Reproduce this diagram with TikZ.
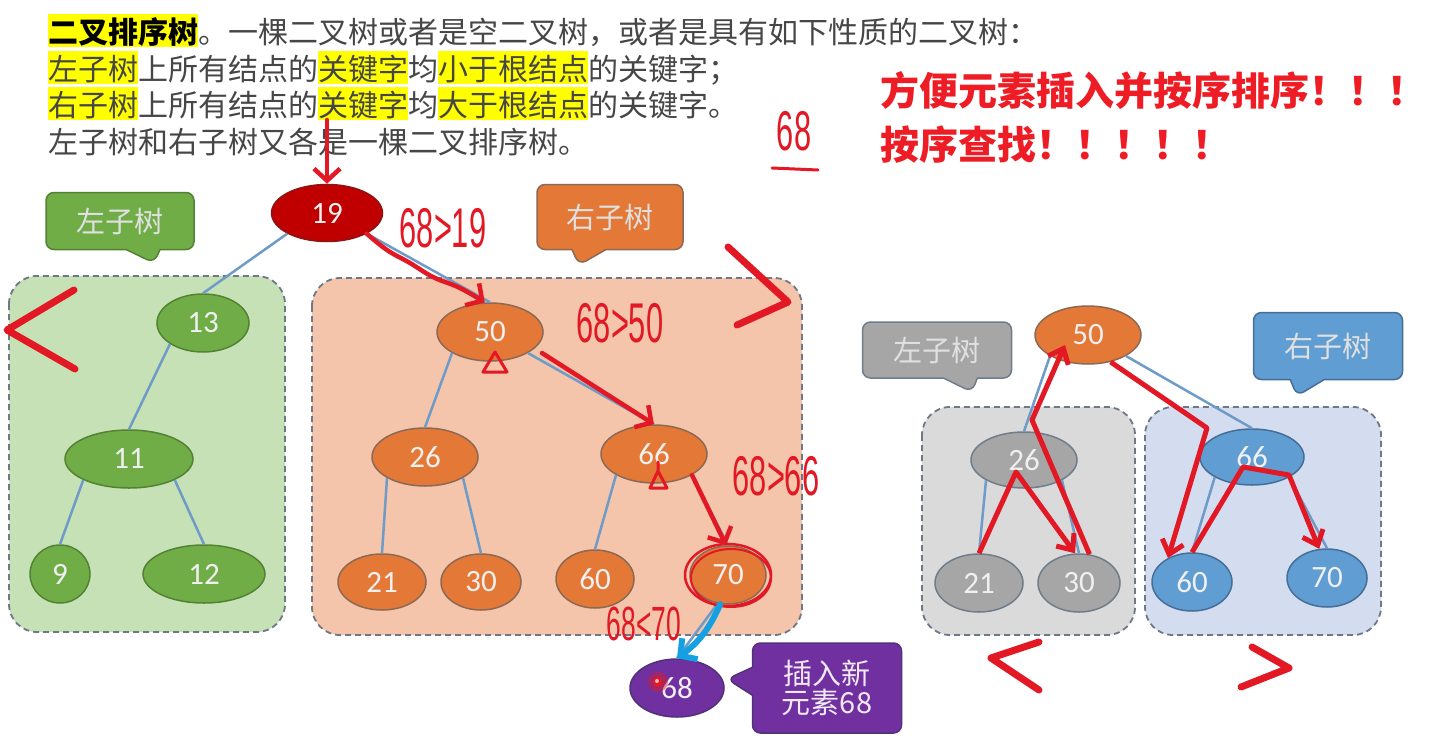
\documentclass[tikz,border=0pt]{standalone}
\usepackage{fontspec}
\setmainfont{Carlito}
\newfontfamily\cjk{Noto Sans CJK SC}
\newfontfamily\handfont[FakeStretch=0.55]{Liberation Sans}
\definecolor{leafgreen}{RGB}{112,173,71}
\definecolor{leafgreendk}{RGB}{84,130,53}
\definecolor{greenbg}{RGB}{199,225,182}
\definecolor{treeorange}{RGB}{228,121,55}
\definecolor{treeorangedk}{RGB}{140,105,85}
\definecolor{orangebg}{RGB}{244,197,170}
\definecolor{rootred}{RGB}{192,0,0}
\definecolor{rootreddk}{RGB}{140,20,20}
\definecolor{treegray}{RGB}{166,166,166}
\definecolor{treegraydk}{RGB}{110,125,140}
\definecolor{graybg}{RGB}{218,218,218}
\definecolor{treeblue}{RGB}{96,157,211}
\definecolor{treebluedk}{RGB}{70,110,150}
\definecolor{bluebg}{RGB}{212,221,239}
\definecolor{newpurple}{RGB}{112,48,160}
\definecolor{newpurpledk}{RGB}{80,50,120}
\definecolor{edgeblue}{RGB}{110,155,200}
\definecolor{boxline}{RGB}{110,120,135}
\definecolor{penred}{RGB}{226,24,36}
\definecolor{penblue}{RGB}{20,160,225}
\definecolor{titlered}{RGB}{238,28,36}
\definecolor{hlyellow}{RGB}{255,255,0}
\definecolor{txtgray}{RGB}{70,70,70}
\usetikzlibrary{shapes.geometric, shapes.callouts, arrows.meta}
\newcommand{\hl}[1]{{\setlength{\fboxsep}{0pt}\colorbox{hlyellow}{\rule[-0.12em]{0pt}{1.1em}#1}}}
\tikzset{
  treenode/.style={ellipse, draw, line width=1.5pt, inner sep=0pt, minimum width=106pt, minimum height=58pt, text=white!94!black, font=\fontsize{31}{31}\selectfont},
  greennode/.style={treenode, fill=leafgreen, draw=leafgreendk},
  orangenode/.style={treenode, fill=treeorange, draw=treeorangedk},
  graynode/.style={treenode, fill=treegray, draw=treegraydk},
  bluenode/.style={treenode, fill=treeblue, draw=treebluedk},
  subbox/.style={rounded corners=28pt, draw=boxline, line width=1.8pt, dash pattern=on 6pt off 4pt},
  tagbox/.style={rectangle callout, rounded corners=8pt, line width=1.5pt, inner sep=0pt, callout pointer width=34pt, text=white!88!black, font=\cjk\fontsize{29}{29}\selectfont},
  treeedge/.style={draw=edgeblue, line width=2.5pt},
  pen/.style={draw=penred, line width=4.5pt, line cap=round, line join=round},
  penarrow/.style={pen, -{Straight Barb[length=12pt, width=26pt]}},
  bigpen/.style={pen, line width=7pt},
  rpen/.style={pen, line width=5pt, line cap=butt, -{Straight Barb[length=13pt, width=22pt]}},
  handnote/.style={text=penred, font=\handfont\fontsize{56}{56}\selectfont, inner sep=0pt},
  textline/.style={anchor=base west, inner sep=0pt, text=txtgray, font=\cjk\fontsize{30}{36}\selectfont},
  slogan/.style={anchor=base west, inner sep=0pt, text=titlered, font=\cjk\bfseries\fontsize{39}{46}\selectfont},
}
\begin{document}
\begin{tikzpicture}[x=1pt, y=-1pt]
  \useasboundingbox (0,0) rectangle (1448,747);
  \fill[white] (0,0) rectangle (1448,747);

  \node[textline] (line1) at (48,43) {\hl{\bfseries\color{black}二叉排序树}。一棵二叉树或者是空二叉树，或者是具有如下性质的二叉树：};
  \node[textline] (line2) at (48,80) {\hl{左子树}上所有结点的\hl{关键字}均\hl{小于根结点}的关键字；};
  \node[textline] (line3) at (48,116) {\hl{右子树}上所有结点的\hl{关键字}均\hl{大于根结点}的关键字。};
  \node[textline] (line4) at (48,153) {左子树和右子树又各是一棵二叉排序树。};
  \node[slogan] (slogan1) at (880,105) {方便元素插入并按序排序！！！};
  \node[slogan] (slogan2) at (880,159) {按序查找！！！！！};

  \draw[subbox, fill=greenbg] (9,276) rectangle (285,632);
  \draw[subbox, fill=orangebg] (312,278) rectangle (802,635);
  \draw[subbox, fill=graybg] (922,407) rectangle (1135,635);
  \draw[subbox, fill=bluebg] (1145,407) rectangle (1381,635);

  \node[tagbox, fill=leafgreen, draw=leafgreendk, minimum width=148pt, minimum height=57pt, callout absolute pointer={(154,263)}] (tagleft) at (120,221) {左子树};
  \node[tagbox, fill=treeorange, draw=treeorangedk, minimum width=146pt, minimum height=65pt, callout absolute pointer={(579,265)}] (tagright) at (610,217) {右子树};
  \node[tagbox, fill=treegray, draw=treegraydk, minimum width=149pt, minimum height=56pt, callout absolute pointer={(972,392)}] (tagleft2) at (937,350) {左子树};
  \node[tagbox, fill=treeblue, draw=treebluedk, minimum width=149pt, minimum height=67pt, callout absolute pointer={(1297,396)}] (tagright2) at (1328,346) {右子树};
  \node[tagbox, fill=newpurple, draw=newpurpledk, minimum width=149pt, minimum height=90pt, callout pointer width=28pt, text=white!90!newpurple, align=center, callout absolute pointer={(727,679)}] (tagnew) at (827,688) {插入新\\元素68};

  \node[treenode, fill=rootred, draw=rootreddk, minimum width=111pt, minimum height=57pt] (n19) at (327,213) {19};
  \node[greennode, minimum width=92pt] (n13) at (203,323) {13};
  \node[greennode, minimum width=128pt] (n11) at (129,459) {11};
  \node[greennode, minimum width=60pt] (n9) at (60,574) {9};
  \node[greennode, minimum width=122pt] (n12) at (204,574) {12};
  \node[orangenode] (n50) at (490,332) {50};
  \node[orangenode] (n26) at (425,457) {26};
  \node[orangenode] (n66) at (654,454) {66};
  \node[orangenode, minimum width=88pt, minimum height=56pt] (n21) at (382,582) {21};
  \node[orangenode, minimum width=80pt, minimum height=56pt] (n30) at (481,582) {30};
  \node[orangenode, minimum width=78pt] (n60) at (595,579) {60};
  \node[orangenode, minimum width=76pt] (n70) at (728,575) {70};
  \node[treenode, fill=newpurple, draw=newpurpledk, minimum width=94pt] (n68) at (677,688) {68};

  \node[orangenode] (r50) at (1088,335) {50};
  \node[graynode, minimum height=56pt] (r26) at (1024,460) {26};
  \node[graynode, minimum width=88pt] (r21) at (979,583) {21};
  \node[graynode, minimum width=82pt] (r30) at (1079,583) {30};
  \node[bluenode, minimum width=104pt, minimum height=56pt] (r66) at (1252,457) {66};
  \node[bluenode, minimum width=80pt] (r60) at (1192,582) {60};
  \node[bluenode, minimum width=80pt] (r70) at (1327,578) {70};

  \draw[treeedge] (n19.south west) -- (n13.north);
  \draw[treeedge] (n13.south west) -- (n11.north);
  \draw[treeedge] (n11.south west) -- (n9.north);
  \draw[treeedge] (n11.south east) -- (n12.north);
  \draw[treeedge] (n19.south east) -- (n50.north);
  \draw[treeedge] (n50.south west) -- (n26.north);
  \draw[treeedge] (n50.south east) -- (n66.north);
  \draw[treeedge] (n26.south west) -- (n21.north);
  \draw[treeedge] (n26.south east) -- (n30.north);
  \draw[treeedge] (n66.south west) -- (n60.north);
  \draw[treeedge] (n66.south east) -- (n70.north);
  \draw[treeedge] (n70.250) -- (n68.north);
  \draw[treeedge] (r50.south west) -- (r26.north);
  \draw[treeedge] (r50.south east) -- (r66.north);
  \draw[treeedge] (r26.south west) -- (r21.north);
  \draw[treeedge] (r26.south east) -- (r30.north);
  \draw[treeedge] (r66.south west) -- (r60.north);
  \draw[treeedge] (r66.south east) -- (r70.north);

  \coordinate (penstart) at (327,120);
  \draw[penarrow] (penstart) -- (n19.north);
  \draw[penarrow] plot[smooth, tension=0.7] coordinates {(n19.south east) (387,250) (410,263) (433,277) (460,288) (n50.100)};
  \draw[penarrow] ([xshift=14pt]n50.south east) -- (n66.north);
  \draw[penarrow] (n66.south east) -- ([xshift=-2pt]n70.north);
  \draw[pen, line width=3pt] (483,372) -- (495,352) -- (507,372) -- cycle;
  \draw[pen, line width=3pt] (650,488) -- (658,471) -- (667,488) -- cycle (658,471) -- (658,462);
  \draw[pen, line width=2.5pt] (n70.center) ellipse [x radius=43pt, y radius=31pt];
  \draw[pen, line width=2pt] ([xshift=3pt, yshift=-3pt]n70.center) ellipse [x radius=40pt, y radius=29pt];
  \draw[pen, line width=6pt, draw=penblue, -{Straight Barb[length=12pt, width=26pt]}] (n70.255) to[bend left=15] (n68.north);
  \fill[penred, opacity=0.45] (658,682) circle (10pt);
  \fill[penred] (658,682) circle (5pt);
  \fill[white!70!penred] (657,681) circle (2pt);

  \node[handnote] (note19) at (443,228) {68>19};
  \node[handnote] (note50) at (620,323) {68>50};
  \node[handnote] (note66) at (776,476) {68>66};
  \node[handnote, font=\handfont\fontsize{48}{48}\selectfont] (note70) at (644,624) {68<70};
  \node[handnote] (key68) at (794,131) {68};
  \draw[pen, line width=3pt] (772,168) -- (818,170);

  \draw[bigpen] (74,290) -- (7,330) -- (75,369);
  \draw[bigpen] (728,247) -- (788,302) -- (737,325);
  \draw[bigpen] (1039,642) -- (991,658) -- (1039,690);
  \draw[bigpen] (1252,647) -- (1289,668) -- (1241,687);

  \draw[rpen] (r21.north) -- (1016,472) -- ([xshift=-4pt]r30.north);
  \draw[rpen] (r30.70) -- (1032,420) -- ([xshift=-23pt, yshift=-10pt]r50.center);
  \draw[rpen] (r50.-50) -- (1207,428) -- (r60.135);
  \draw[rpen] (r60.north) -- (1243,467) -- (1289,475) -- (r70.105);
\end{tikzpicture}
\end{document}
